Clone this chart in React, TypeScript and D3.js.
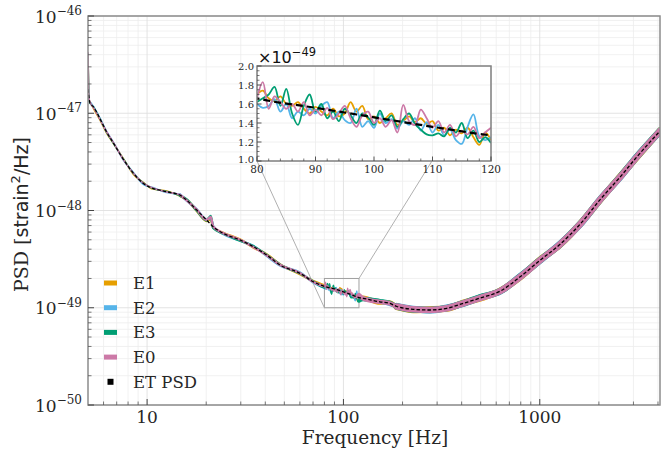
import React from 'react';
import * as d3 from 'd3';

// ---------- data (PSD values in units of 1e-49 strain^2/Hz) ----------
const UNIT = 1e-49;

const etFreq = [5, 5.12, 5.32, 5.74, 6.21, 6.75, 7.6, 8.52, 9.56, 10.7, 12.6, 14.7, 15.9, 17.9, 20.1, 21.7, 24.4, 29.7, 34.7, 40.6, 47.5, 60.1, 70.3, 80, 90, 100, 110, 120, 126, 153, 172, 187, 227, 276, 336, 408, 497, 628, 794, 1000, 1270, 1608, 2040, 2590, 3119, 4096];
const etPsd = [177, 127, 117, 88.7, 64.6, 49.1, 33.1, 24.1, 19.0, 16.9, 15.6, 14.4, 12.8, 10.1, 7.98, 6.81, 5.83, 4.98, 4.25, 3.49, 2.75, 2.26, 1.85, 1.66, 1.56, 1.46, 1.36, 1.27, 1.25, 1.15, 1.11, 1.03, 0.964, 0.948, 0.987, 1.11, 1.26, 1.48, 2.08, 3.06, 4.5, 7.26, 13.1, 22.6, 35.5, 65.6];

const lowFreq = [5, 5.06, 5.2, 5.32, 5.74, 6.21, 6.75, 7.6, 8.52, 9.56, 10.7, 12.6, 14.7, 15.9, 17.9, 20.1, 21.1, 21.7, 24.4, 29.7, 34.7, 40.6, 47.5, 60.1, 70.3];
const e1Low = [400, 138, 124, 113, 86, 63, 48.5, 33.8, 23.5, 19.4, 16.6, 15.9, 14.1, 12.9, 9.9, 7.8, 8.1, 6.7, 5.9, 5.05, 4.18, 3.55, 2.8, 2.22, 1.88];
const e2Low = [405, 136, 126, 118, 90, 65.5, 49.8, 32.6, 24.6, 18.6, 17.2, 15.3, 14.7, 12.6, 10.3, 8.1, 8.4, 6.9, 5.75, 4.92, 4.33, 3.42, 2.72, 2.3, 1.82];
const e3Low = [410, 134, 122, 116, 88, 64, 48.9, 33.4, 24.0, 19.2, 16.8, 15.7, 14.2, 13.0, 10.0, 7.9, 8.8, 6.6, 5.8, 4.9, 4.3, 3.5, 2.78, 2.25, 1.86];
const e0Low = [420, 140, 123, 115, 87.5, 64.9, 49.5, 33.0, 24.2, 19.1, 17.0, 15.5, 14.5, 12.7, 10.2, 8.0, 8.6, 6.85, 5.85, 5.0, 4.22, 3.47, 2.76, 2.27, 1.84];

const insetFreq = [80, 81, 82, 83, 84, 85, 86, 87, 88, 89, 90, 91, 92, 93, 94, 95, 96, 97, 98, 99, 100, 101, 102, 103, 104, 105, 106, 107, 108, 109, 110, 111, 112, 113, 114, 115, 116, 117, 118, 119, 120];
const e1Mid = [1.70, 1.74, 1.66, 1.63, 1.68, 1.60, 1.58, 1.62, 1.55, 1.50, 1.57, 1.52, 1.48, 1.55, 1.47, 1.50, 1.62, 1.52, 1.58, 1.44, 1.47, 1.40, 1.45, 1.50, 1.38, 1.42, 1.47, 1.41, 1.45, 1.39, 1.42, 1.32, 1.35, 1.27, 1.33, 1.29, 1.35, 1.25, 1.17, 1.30, 1.22];
const e2Mid = [1.60, 1.56, 1.58, 1.65, 1.52, 1.60, 1.45, 1.52, 1.48, 1.55, 1.50, 1.58, 1.62, 1.45, 1.52, 1.43, 1.40, 1.55, 1.36, 1.42, 1.35, 1.50, 1.40, 1.44, 1.34, 1.42, 1.38, 1.45, 1.32, 1.41, 1.30, 1.38, 1.27, 1.33, 1.22, 1.18, 1.36, 1.49, 1.26, 1.22, 1.25];
const e3Mid = [1.62, 1.66, 1.70, 1.78, 1.58, 1.76, 1.50, 1.38, 1.58, 1.70, 1.52, 1.60, 1.45, 1.52, 1.42, 1.55, 1.48, 1.40, 1.50, 1.46, 1.38, 1.53, 1.42, 1.48, 1.36, 1.44, 1.50, 1.39, 1.33, 1.28, 1.27, 1.29, 1.26, 1.35, 1.30, 1.40, 1.24, 1.32, 1.20, 1.25, 1.19];
const e0Mid = [1.66, 1.83, 1.55, 1.68, 1.62, 1.55, 1.60, 1.52, 1.62, 1.48, 1.54, 1.48, 1.56, 1.44, 1.50, 1.58, 1.45, 1.36, 1.48, 1.52, 1.40, 1.45, 1.36, 1.43, 1.30, 1.59, 1.42, 1.38, 1.54, 1.45, 1.35, 1.42, 1.30, 1.38, 1.26, 1.32, 1.28, 1.36, 1.24, 1.30, 1.35];

const highFreq = [126, 153, 172, 187, 227, 276, 336, 408, 497, 628, 794, 1000, 1270, 1608, 2040, 2590, 3119, 4096];
const e1High = [1.27, 1.13, 1.13, 1.02, 0.95, 0.96, 0.98, 1.12, 1.25, 1.49, 2.06, 3.1, 4.45, 7.3, 13.0, 22.8, 35.2, 66];
const e2High = [1.24, 1.16, 1.10, 1.04, 0.97, 0.94, 1.0, 1.10, 1.27, 1.47, 2.1, 3.04, 4.55, 7.2, 13.2, 22.4, 35.8, 65];
const e3High = [1.23, 1.17, 1.12, 1.03, 0.96, 0.95, 0.99, 1.11, 1.28, 1.48, 2.09, 3.07, 4.5, 7.3, 13.1, 22.7, 35.6, 66];
const e0High = [1.25, 1.15, 1.11, 1.03, 0.964, 0.948, 0.987, 1.11, 1.26, 1.48, 2.08, 3.06, 4.5, 7.26, 13.1, 22.6, 35.5, 65.6];

const seriesNames = ['E1', 'E2', 'E3', 'E0'];
const seriesColors = ['#E69F00', '#56B4E9', '#009E73', '#CC79A7'];
const seriesLow = [e1Low, e2Low, e3Low, e0Low];
const seriesMid = [e1Mid, e2Mid, e3Mid, e0Mid];
const seriesHigh = [e1High, e2High, e3High, e0High];

const xMajor = [10, 100, 1000];
const yExps = [-46, -47, -48, -49, -50];
const insetXTicks = [80, 90, 100, 110, 120];
const insetYTicks = [1.0, 1.2, 1.4, 1.6, 1.8, 2.0];

// stroke width per frequency range: [lo, hi, width]
const strokeBands: [number, number, number][] = [[5, 15, 1.6], [15, 79, 2.4], [79, 121, 1.5], [121, 200, 4.5], [200, 4096, 6.5]];

// ---------- layout ----------
const W = 668, H = 450;
const L = 88, R = 660, T = 16, B = 405;
const IL = 257, IR = 491, IT = 66, IB = 161;
const SERIF = '"DejaVu Serif", serif';
const SANS = '"DejaVu Sans", sans-serif';
const TXT = '#262626';

const x = d3.scaleLog().domain([5, 4096]).range([L, R]);
const y = d3.scaleLog().domain([1e-50, 1e-46]).range([B, T]);
const xi = d3.scaleLinear().domain([80, 120]).range([IL, IR]);
const yi = d3.scaleLinear().domain([1.0, 2.0]).range([IB, IT]);

type P = { f: number; v: number };

function buildSeries(k: number): P[] {
  const pts: P[] = [];
  lowFreq.forEach((f, i) => pts.push({ f, v: seriesLow[k][i] }));
  insetFreq.forEach((f, i) => pts.push({ f, v: seriesMid[k][i] }));
  highFreq.forEach((f, i) => pts.push({ f, v: seriesHigh[k][i] }));
  return pts;
}

const etPts: P[] = etFreq.map((f, i) => ({ f, v: etPsd[i] }));

const mainLine = d3.line<P>().x(d => x(d.f)).y(d => y(d.v * UNIT)).curve(d3.curveMonotoneX);
const insetLine = d3.line<P>().x(d => xi(d.f)).y(d => yi(d.v)).curve(d3.curveCatmullRom.alpha(0.5));

function segments(pts: P[]) {
  return strokeBands.map(([lo, hi, w]) => {
    const idx = pts.map((p, i) => (p.f >= lo && p.f <= hi ? i : -1)).filter(i => i >= 0);
    if (!idx.length) return null;
    const a = Math.max(0, idx[0] - 1);
    const b = Math.min(pts.length - 1, idx[idx.length - 1] + 1);
    return { d: mainLine(pts.slice(a, b + 1)) || '', w };
  }).filter(Boolean) as { d: string; w: number }[];
}

export default function App() {
  const series = seriesNames.map((_, k) => buildSeries(k));

  const minorX: number[] = [];
  [1, 10, 100, 1000].forEach(dec => {
    for (let m = 2; m <= 9; m++) {
      const v = dec * m;
      if (v > 5 && v < 4096 && !xMajor.includes(v)) minorX.push(v);
    }
  });
  const minorY: number[] = [];
  [-50, -49, -48, -47].forEach(e => {
    for (let m = 2; m <= 9; m++) minorY.push(m * Math.pow(10, e));
  });

  const rectX0 = x(80), rectX1 = x(120), rectY0 = y(2e-49), rectY1 = y(1e-49);

  const legendY = [283, 307.7, 332.4, 357.1, 381.8];

  const insetMinorY: number[] = [];
  for (let i = 1; i < 20; i++) if (i % 4 !== 0) insetMinorY.push(1 + i * 0.05);
  const insetMinorX: number[] = [];
  for (let v = 82; v < 120; v += 2) if (v % 10 !== 0) insetMinorX.push(v);

  return (
    <svg width={W} height={H} style={{ position: 'absolute', left: 0, top: 0, background: '#fff' }}>
      <defs>
        <clipPath id="mainClip"><rect x={L} y={T} width={R - L} height={B - T} /></clipPath>
        <clipPath id="insetClip"><rect x={IL} y={IT} width={IR - IL} height={IB - IT} /></clipPath>
      </defs>
      <rect x={0} y={0} width={W} height={H} fill="#fff" />

      {/* grid */}
      <g>
        {minorY.map((v, i) => <line key={'gy' + i} x1={L} x2={R} y1={y(v)} y2={y(v)} stroke="#ededed" strokeWidth={0.8} />)}
        {minorX.map((v, i) => <line key={'gx' + i} y1={T} y2={B} x1={x(v)} x2={x(v)} stroke="#ededed" strokeWidth={0.8} />)}
        {yExps.map(e => <line key={'Gy' + e} x1={L} x2={R} y1={y(Math.pow(10, e))} y2={y(Math.pow(10, e))} stroke="#e0e0e0" strokeWidth={0.9} />)}
        {xMajor.map(v => <line key={'Gx' + v} y1={T} y2={B} x1={x(v)} x2={x(v)} stroke="#e0e0e0" strokeWidth={0.9} />)}
      </g>

      {/* zoom rectangle + connectors */}
      <rect x={rectX0} y={rectY0} width={rectX1 - rectX0} height={rectY1 - rectY0} fill="none" stroke="#a0a0a0" strokeWidth={1} />
      <line x1={rectX0} y1={rectY1} x2={IL} y2={IB} stroke="#b0b0b0" strokeWidth={1} />
      <line x1={rectX1} y1={rectY0} x2={IR} y2={IT} stroke="#b0b0b0" strokeWidth={1} />

      {/* series */}
      <g clipPath="url(#mainClip)">
        {series.map((pts, k) => (
          <g key={'s' + k}>
            {segments(pts).map((s, j) => (
              <path key={j} d={s.d} fill="none" stroke={seriesColors[k]} strokeWidth={s.w} strokeLinejoin="round" strokeLinecap="round" />
            ))}
          </g>
        ))}
        <path d={mainLine(etPts) || ''} fill="none" stroke="#000" strokeWidth={1.3} strokeDasharray="3.5,2" />
      </g>

      {/* frame */}
      <rect x={L} y={T} width={R - L} height={B - T} fill="none" stroke="#8c8c8c" strokeWidth={1.5} />

      {/* ticks */}
      {minorY.map((v, i) => <line key={'ty' + i} x1={L} x2={L + 3.5} y1={y(v)} y2={y(v)} stroke="#555" strokeWidth={0.8} />)}
      {yExps.map(e => <line key={'Ty' + e} x1={L} x2={L + 6} y1={y(Math.pow(10, e))} y2={y(Math.pow(10, e))} stroke="#444" strokeWidth={1} />)}
      {minorX.map((v, i) => <line key={'tx' + i} y1={B} y2={B - 3.5} x1={x(v)} x2={x(v)} stroke="#555" strokeWidth={0.8} />)}
      {xMajor.map(v => <line key={'Tx' + v} y1={B} y2={B - 6} x1={x(v)} x2={x(v)} stroke="#444" strokeWidth={1} />)}

      {/* y tick labels */}
      {yExps.map(e => (
        <text key={'yl' + e} x={L - 6} y={y(Math.pow(10, e)) + 6.5} textAnchor="end" fontFamily={SERIF} fontSize={17} fill={TXT}>
          10<tspan dy={-7.5} fontSize={12}>{'\u2212' + String(-e)}</tspan>
        </text>
      ))}
      {/* x tick labels */}
      {xMajor.map(v => (
        <text key={'xl' + v} x={x(v)} y={B + 17.5} textAnchor="middle" fontFamily={SERIF} fontSize={17} fill={TXT}>{String(v)}</text>
      ))}

      {/* axis labels */}
      <text x={375} y={444} textAnchor="middle" fontFamily={SERIF} fontSize={18.5} fill={TXT}>Frequency [Hz]</text>
      <text transform={`translate(28,${(T + B) / 2 + 4}) rotate(-90)`} textAnchor="middle" fontSize={19} fill={TXT}>
        <tspan fontFamily={SERIF}>PSD [</tspan>
        <tspan fontFamily={SANS}>strain</tspan>
        <tspan fontFamily={SANS} fontSize={13} dy={-8}>2</tspan>
        <tspan fontFamily={SANS} dy={8}>/Hz]</tspan>
      </text>

      {/* legend */}
      {seriesNames.map((n, k) => (
        <g key={'lg' + n}>
          <rect x={104} y={legendY[k] - 2.5} width={13} height={5} fill={seriesColors[k]} />
          <text x={133} y={legendY[k] + 6} fontFamily={SERIF} fontSize={16.5} fill={TXT}>{n}</text>
        </g>
      ))}
      <rect x={107.5} y={legendY[4] - 3} width={6} height={6} fill="#000" />
      <text x={133} y={legendY[4] + 6} fontFamily={SERIF} fontSize={16.5} fill={TXT}>ET PSD</text>

      {/* inset */}
      <rect x={IL} y={IT} width={IR - IL} height={IB - IT} fill="#fff" />
      {insetXTicks.map(v => <line key={'igx' + v} x1={xi(v)} x2={xi(v)} y1={IT} y2={IB} stroke="#ececec" strokeWidth={0.8} />)}
      {insetYTicks.map(v => <line key={'igy' + v} x1={IL} x2={IR} y1={yi(v)} y2={yi(v)} stroke="#ececec" strokeWidth={0.8} />)}
      <g clipPath="url(#insetClip)">
        {series.map((pts, k) => (
          <path key={'is' + k} d={insetLine(pts.filter(p => p.f >= 79 && p.f <= 121)) || ''} fill="none" stroke={seriesColors[k]} strokeWidth={1.8} strokeLinejoin="round" />
        ))}
        <path d={insetLine(etPts.filter(p => p.f >= 70 && p.f <= 130)) || ''} fill="none" stroke="#000" strokeWidth={2.2} strokeDasharray="7,4" />
      </g>
      <rect x={IL} y={IT} width={IR - IL} height={IB - IT} fill="none" stroke="#808080" strokeWidth={1.5} />
      {insetMinorY.map((v, i) => <line key={'imy' + i} x1={IL} x2={IL + 2.5} y1={yi(v)} y2={yi(v)} stroke="#444" strokeWidth={0.7} />)}
      {insetYTicks.map(v => <line key={'ity' + v} x1={IL} x2={IL + 4.5} y1={yi(v)} y2={yi(v)} stroke="#444" strokeWidth={0.9} />)}
      {insetMinorX.map((v, i) => <line key={'imx' + i} y1={IB} y2={IB - 2.5} x1={xi(v)} x2={xi(v)} stroke="#444" strokeWidth={0.7} />)}
      {insetXTicks.map(v => <line key={'itx' + v} y1={IB} y2={IB - 4.5} x1={xi(v)} x2={xi(v)} stroke="#444" strokeWidth={0.9} />)}
      {insetYTicks.map(v => (
        <text key={'iyl' + v} x={IL - 3} y={yi(v) + (v === 1.0 ? 1.5 : 3.5)} textAnchor="end" fontFamily={SERIF} fontSize={10} fill={TXT}>{v.toFixed(1)}</text>
      ))}
      {insetXTicks.map(v => (
        <text key={'ixl' + v} x={xi(v)} y={IB + 11.5} textAnchor="middle" fontFamily={SERIF} fontSize={10.5} fill={TXT}>{String(v)}</text>
      ))}
      <text x={IL + 1} y={63} fontFamily={SANS} fontSize={16} fill="#111">
        {'\u00d710'}<tspan dy={-7} fontSize={11.5}>{'\u221249'}</tspan>
      </text>
    </svg>
  );
}
